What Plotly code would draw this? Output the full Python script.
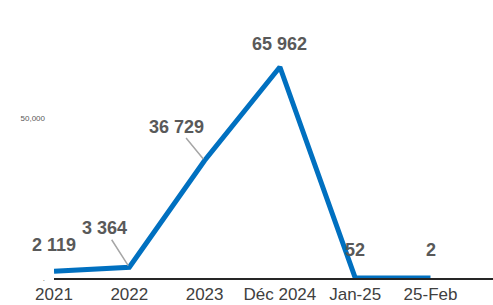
import plotly.graph_objects as go

categories = ["2021", "2022", "2023", "Déc 2024", "Jan-25", "25-Feb"]
values = [2119, 3364, 36729, 65962, 52, 2]
labels = ["2 119", "3 364", "36 729", "65 962", "52", "2"]
y_tickvals = [0, 50000]
y_ticktext = [".", "50,000"]

fig = go.Figure()
fig.add_trace(go.Scatter(
    x=list(range(len(categories))), y=values, mode="lines",
    line=dict(color="#0070C0", width=5), cliponaxis=False,
    hoverinfo="skip", showlegend=False))

label_font = dict(family="Liberation Sans, Arial", size=18, color="#595959")
# label placement: (showarrow, ax, ay, yshift)
placement = [
    (False, 0, 0, 26),
    (True, -25, -39, 0),
    (True, -28, -34, 0),
    (False, 0, 0, 23),
    (False, 0, 0, 28),
    (False, 0, 0, 28),
]
for i, (lab, (arrow, ax, ay, ys)) in enumerate(zip(labels, placement)):
    if arrow:
        fig.add_annotation(x=i, y=values[i], text="<b>%s</b>" % lab, showarrow=True,
                           ax=ax, ay=ay, arrowhead=0, arrowwidth=1.5,
                           arrowcolor="#A6A6A6", font=label_font, standoff=2)
    else:
        fig.add_annotation(x=i, y=values[i], text="<b>%s</b>" % lab, showarrow=False,
                           yshift=ys, font=label_font)

fig.update_layout(
    width=493, height=305,
    margin=dict(l=54, r=0, t=0, b=27),
    paper_bgcolor="white", plot_bgcolor="white",
    xaxis=dict(range=[0, 5.83], tickvals=list(range(len(categories))), ticktext=categories,
               showgrid=False, zeroline=False, showline=True, linecolor="#262626", linewidth=2,
               ticks="", tickfont=dict(family="Liberation Sans, Arial", size=17, color="#404040")),
    yaxis=dict(range=[0, 86900], tickvals=y_tickvals, ticktext=y_ticktext, showgrid=False,
               zeroline=False, showline=False, ticks="", ticklabelstandoff=8,
               tickfont=dict(family="Liberation Sans, Arial", size=8, color="#595959")),
)
fig.write_html("out.html", config={"displayModeBar": False})

with open("out.html", encoding="utf-8") as f:
    html = f.read()
html = html.replace("<head>", "<head><style>html,body{margin:0;padding:0;overflow:hidden;}</style>", 1)
with open("out.html", "w", encoding="utf-8") as f:
    f.write(html)
